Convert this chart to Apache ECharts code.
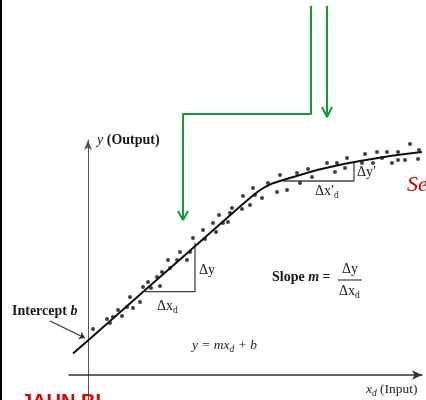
<!DOCTYPE html>
<html><head><meta charset="utf-8">
<script src="https://cdn.jsdelivr.net/npm/echarts@6/dist/echarts.min.js"></script>
<style>html,body{margin:0;padding:0;background:#fff}#c{width:426px;height:400px}</style>
</head><body><div id="c"></div>
<script>
// fitted curve y(xd)
const curvePoints = [[-1.5,2.14],[0,3.46],[3.2,6.28],[6.2,8.92],[9.2,11.56],[12.2,14.21],[15.2,16.85],[16.2,17.7],[17.0,18.35],[17.7,18.8],[18.5,19.18],[19.5,19.5],[20.7,19.85],[21.7,20.15],[22.9,20.5],[24.2,20.8],[25.7,21.12],[27.2,21.4],[28.7,21.65],[30.2,21.9],[31.7,22.1],[33.4,22.3]];
// measured data points
const dotsX = [0.5,1.9,2.2,2.5,3.0,3.4,3.9,4.2,4.5,5.2,5.5,6.0,6.3,6.9,7.2,7.4,8.0,8.2,8.9,9.2,9.9,10.2,10.5,11.5,11.7,12.5,12.8,13.1,13.5,14.0,14.2,14.4,
  15.4,15.5,16.2,16.5,16.7,17.4,18.0,18.9,19.2,19.9,20.9,21.2,22.0,22.4,23.9,24.7,24.9,25.7,25.9,27.4,27.7,28.5,28.9,29.4,29.9,30.4,31.0,31.0,31.7,32.2,33.0,33.1];
const dotsY = [4.6,5.6,5.2,5.8,6.5,5.9,6.8,7.8,6.7,7.3,8.8,9.3,8.7,9.8,8.9,10.3,11.5,10.7,11.5,12.3,11.5,12.3,13.7,14.5,13.6,15.2,14.3,16.0,15.2,15.3,16.2,16.7,
  16.6,17.9,17.0,18.7,18.0,17.7,19.2,18.3,20.0,18.5,20.2,19.2,20.6,19.8,21.2,20.3,21.2,20.7,21.7,21.2,22.1,21.2,22.3,21.7,22.3,21.2,21.5,22.3,21.5,23.1,21.6,22.5];
// slope triangles (legs only)
const triangle1 = [[5.7,8.33],[10.7,8.33],[10.7,13.2]];
const triangle2 = [[19.5,19.4],[26.6,19.4],[26.6,21.3]];
// green annotation arrows
const greenPath1 = [[22.3,36.9],[22.3,26.1],[9.5,26.1],[9.5,15.5]];
const greenHead1 = [[9.0,16.4],[9.5,15.5],[10.0,16.4]];
const greenPath2 = [[23.9,36.9],[23.9,25.8]];
const greenHead2 = [[23.4,26.8],[23.9,25.8],[24.4,26.8]];
// intercept pointer
const interceptArrow = [[-3.8,5.4],[-0.3,3.7]];

const dots = dotsX.map((x,i)=>[x,dotsY[i]]);
const serif = 'Liberation Serif';
const ink = '#1a1a1a';
const green = '#13993f';

function txt(x,y,text,rich,extra){
  return {type:'text', x:x, y:y, z:10, style:Object.assign({text:text, rich:rich, fill:ink, font:'13px '+serif, verticalAlign:'middle'}, extra||{})};
}
function subS(o){return Object.assign({fontFamily:serif, fontSize:9.5, lineHeight:9, verticalAlign:'bottom', fill:ink}, o||{});}
function main(o){return Object.assign({fontFamily:serif, fontSize:13.5, lineHeight:18, verticalAlign:'middle', fill:ink}, o||{});}

const chart = echarts.init(document.getElementById('c'), null, {renderer:'canvas'});
chart.setOption({
  animation:false,
  backgroundColor:'#fff',
  grid:{left:69, top:140, width:353, height:260},
  xAxis:{type:'value', min:-1.9, max:33.4,
    axisLine:{onZero:true, lineStyle:{color:'#333', width:1.5}, symbol:['none','arrow'], symbolSize:[7,10]},
    axisTick:{show:false}, axisLabel:{show:false}, splitLine:{show:false}},
  yAxis:{type:'value', min:-2.5, max:23.5,
    axisLine:{onZero:true, lineStyle:{color:'#555', width:1}, symbol:['none','arrow'], symbolSize:[6,10]},
    axisTick:{show:false}, axisLabel:{show:false}, splitLine:{show:false}},
  series:[
    {type:'line', data:curvePoints, smooth:false, showSymbol:false, lineStyle:{color:'#111', width:2}, z:3},
    {type:'scatter', data:dots, symbol:'circle', symbolSize:4, itemStyle:{color:'#111'}, clip:false, z:4},
    {type:'line', data:triangle1, showSymbol:false, lineStyle:{color:'#444', width:1.3}, z:2},
    {type:'line', data:triangle2, showSymbol:false, lineStyle:{color:'#444', width:1.3}, z:2},
    {type:'line', data:greenPath1, showSymbol:false, clip:false, lineStyle:{color:green, width:2}, z:5},
    {type:'line', data:greenHead1, showSymbol:false, clip:false, lineStyle:{color:green, width:2}, z:5},
    {type:'line', data:greenPath2, showSymbol:false, clip:false, lineStyle:{color:green, width:2}, z:5},
    {type:'line', data:greenHead2, showSymbol:false, clip:false, lineStyle:{color:green, width:2}, z:5},
    {type:'lines', coordinateSystem:'cartesian2d', clip:false, symbol:['none','arrow'], symbolSize:6,
      data:[{coords:interceptArrow}], lineStyle:{color:'#333', width:1.2, opacity:1}, z:5}
  ],
  graphic:[
    {type:'rect', shape:{x:0,y:0,width:2,height:400}, style:{fill:'#000'}, z:20},
    txt(97,140,'{i|y}{b| (Output)}',{i:main({fontStyle:'italic', fontSize:14}), b:main({fontWeight:'bold', fontSize:14})}),
    txt(12,311,'{b|Intercept }{i|b}',{b:main({fontWeight:'bold', fontSize:14}), i:main({fontStyle:'italic', fontWeight:'bold', fontSize:14})}),
    txt(199,270,'{m|Δy}',{m:main({fontSize:14})}),
    txt(157,306,'{m|Δx}{s|d}',{m:main({fontSize:14}), s:subS()}),
    txt(357,172,'{m|Δy′}',{m:main({fontSize:14})}),
    txt(315,191,'{m|Δx′}{s|d}',{m:main({fontSize:14}), s:subS()}),
    txt(272,277,'{b|Slope }{i|m}{b| =}',{b:main({fontWeight:'bold', fontSize:14}), i:main({fontStyle:'italic', fontWeight:'bold', fontSize:14})}),
    txt(342,269,'{m|Δy}',{m:main({fontSize:14})}),
    {type:'line', shape:{x1:338,y1:280,x2:362,y2:280}, style:{stroke:ink, lineWidth:1}, z:10},
    txt(339,291,'{m|Δx}{s|d}',{m:main({fontSize:14}), s:subS()}),
    txt(192,345,'{i|y = mx}{s|d}{i| + b}',{i:main({fontStyle:'italic', fontSize:13.5}), s:subS({fontStyle:'italic'})}),
    txt(366,389,'{i|x}{s|d}{m| (Input)}',{i:main({fontStyle:'italic', fontSize:13.5}), s:subS({fontStyle:'italic'}), m:main({fontSize:13.5})}),
    txt(407,185,'Se',null,{font:'italic 22px '+serif, fill:'#cc0000'}),
    txt(21,402,'JAUN BI',null,{font:'bold 20px "Liberation Sans"', fill:'#dd0000'})
  ]
});
</script>
</body></html>
